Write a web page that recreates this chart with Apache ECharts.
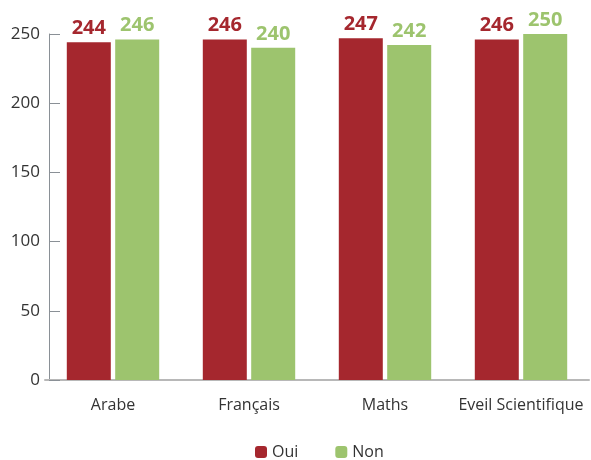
<!DOCTYPE html>
<html>
<head>
<meta charset="utf-8">
<script src="https://cdn.jsdelivr.net/npm/echarts@6/dist/echarts.min.js"></script>
<style>html,body{margin:0;padding:0;background:#fff}#c{width:591px;height:460px}</style>
</head>
<body>
<div id="c"></div>
<script>
var categories = ["Arabe", "Français", "Maths", "Eveil Scientifique"];
var seriesNames = ["Oui", "Non"];
var ouiValues = [244, 246, 247, 246];
var nonValues = [246, 240, 242, 250];
var yTicks = [0, 50, 100, 150, 200, 250];

var RED = "#A5272E", GREEN = "#9DC46E";
var FONT = "Open Sans";

var chart = echarts.init(document.getElementById("c"), null, {renderer: "canvas"});
chart.setOption({
  animation: false,
  textStyle: {fontFamily: FONT},
  grid: {left: 45, width: 544, top: 34, bottom: 80, containLabel: false},
  legend: {
    bottom: -5, left: 250,
    itemWidth: 12, itemHeight: 12, itemGap: 37,
    icon: "roundRect",
    textStyle: {fontSize: 16, color: "#333", fontFamily: FONT},
    data: seriesNames
  },
  xAxis: {
    type: "category",
    data: categories,
    axisLine: {lineStyle: {color: "#B8B8B8", width: 2}},
    axisTick: {show: false},
    axisLabel: {interval: 0, margin: 17, fontSize: 16, color: "#333", fontFamily: FONT}
  },
  yAxis: {
    type: "value",
    min: yTicks[0], max: yTicks[yTicks.length - 1], interval: 50,
    offset: -4,
    axisLine: {show: true, lineStyle: {color: "#8A9096", width: 1}},
    axisTick: {show: true, inside: true, length: 11, lineStyle: {color: "#8A9096"}},
    splitLine: {show: false},
    axisLabel: {margin: 9, fontSize: 17, color: "#333", fontFamily: FONT}
  },
  series: [
    {
      name: seriesNames[0], type: "bar", data: ouiValues,
      barWidth: 44, barGap: "10%",
      itemStyle: {color: RED},
      label: {show: true, position: "top", distance: 4, color: RED, fontSize: 20, fontWeight: "bold", fontFamily: FONT}
    },
    {
      name: seriesNames[1], type: "bar", data: nonValues,
      barWidth: 44, barGap: "10%",
      itemStyle: {color: GREEN},
      label: {show: true, position: "top", distance: 4, color: GREEN, fontSize: 20, fontWeight: "bold", fontFamily: FONT}
    }
  ]
});
</script>
</body>
</html>
